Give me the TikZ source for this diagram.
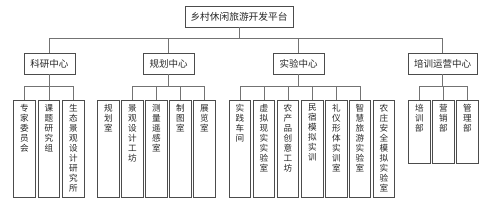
\documentclass[tikz,border=0pt]{standalone}
\usepackage{fontspec}
\newfontfamily\cjk{Noto Sans CJK SC}
\begin{document}
\begin{tikzpicture}[x=1pt,y=-1pt,
  box/.style={draw=black!70,line width=0.8pt,fill=white,inner sep=0pt,font=\cjk\fontsize{9.5}{10}\selectfont,text=black!85},
  leaf/.style={draw=black!70,line width=0.8pt,fill=white,inner sep=0pt,minimum width=21.5pt,anchor=north},
  vtext/.style={inner sep=0pt,anchor=north,align=center,font=\cjk\fontsize{8.6}{10}\selectfont,text=black!85},
  conn/.style={draw=black!55,line width=0.7pt}]
\useasboundingbox (0,0) rectangle (488,208);
% top
\node[box,minimum width=108pt,minimum height=21pt,font=\cjk\fontsize{9.7}{10}\selectfont] (top) at (239,16.5) {乡村休闲旅游开发平台};
\node[box,minimum width=51pt,minimum height=21pt] (ky) at (49.5,63.5) {科研中心};
\node[box,minimum width=51pt,minimum height=21pt] (gh) at (168.5,63.5) {规划中心};
\node[box,minimum width=51pt,minimum height=21pt] (sy) at (298.5,63.5) {实验中心};
\node[box,minimum width=69pt,minimum height=21pt] (px) at (442.5,63.5) {培训运营中心};
\coordinate (b0) at (239,38);
\draw[conn] (top.south) -- (b0);
\draw[conn] (b0) -| (ky.north);
\draw[conn] (b0) -| (gh.north);
\draw[conn] (b0) -| (sy.north);
\draw[conn] (b0) -| (px.north);
% leaves
\foreach \n/\x/\h/\t in {
  k1/24.5/97/{专\\家\\委\\员\\会},
  k2/49/97/{课\\题\\研\\究\\组},
  k3/73.5/97/{生\\态\\景\\观\\设\\计\\研\\究\\所},
  g1/108.5/97/{规\\划\\室},
  g2/132.5/97/{景\\观\\设\\计\\工\\坊},
  g3/156.5/97/{测\\量\\遥\\感\\室},
  g4/180.5/97/{制\\图\\室},
  g5/204.5/97/{展\\览\\室},
  s1/240/97/{实\\践\\车\\间},
  s2/264/97/{虚\\拟\\现\\实\\实\\验\\室},
  s3/288/97/{农\\产\\品\\创\\意\\工\\坊},
  s4/312.5/97/{民\\宿\\模\\拟\\实\\训},
  s5/336.5/97/{礼\\仪\\形\\体\\实\\训\\室},
  s6/360/97/{智\\慧\\旅\\游\\实\\验\\室},
  s7/384/97/{农\\庄\\安\\全\\模\\拟\\实\\验\\室},
  p1/419.5/63/{培\\训\\部},
  p2/443.5/63/{营\\销\\部},
  p3/467.5/63/{管\\理\\部}}{
  \node[leaf,minimum height=\h pt] (\n) at (\x,100) {};
  \node[vtext] (\n t) at ([yshift=-4pt]\n.north) {\t};
}
\coordinate (bk) at (49.5,86);
\coordinate (bg) at (168.5,86);
\coordinate (bs) at (298.5,86);
\coordinate (bp) at (442.5,86);
\draw[conn] (ky.south) -- (bk);
\draw[conn] (gh.south) -- (bg);
\draw[conn] (sy.south) -- (bs);
\draw[conn] (px.south) -- (bp);
\foreach \n in {k1,k2,k3} \draw[conn] (bk) -| (\n.north);
\foreach \n in {g2,g3,g4,g5} \draw[conn] (bg) -| (\n.north);
\foreach \n in {s1,s2,s3,s4,s5,s6} \draw[conn] (bs) -| (\n.north);
\foreach \n in {p1,p2,p3} \draw[conn] (bp) -| (\n.north);
\end{tikzpicture}
\end{document}
